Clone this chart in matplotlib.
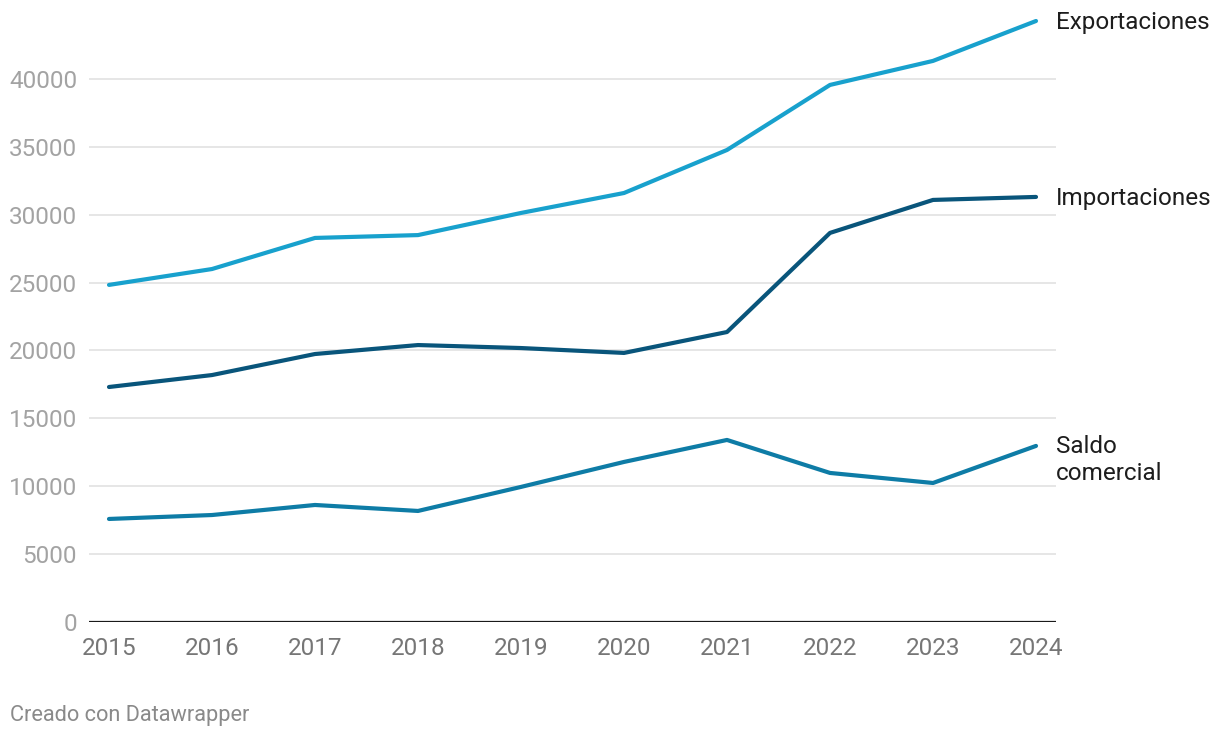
import matplotlib.pyplot as plt

plt.rcParams["font.family"] = ["Roboto", "DejaVu Sans"]

years = [2015, 2016, 2017, 2018, 2019, 2020, 2021, 2022, 2023, 2024]
exportaciones = [24830, 26000, 28290, 28500, 30130, 31600, 34770, 39560, 41330, 44270]
importaciones = [17310, 18190, 19740, 20400, 20180, 19820, 21360, 28660, 31090, 31310]
saldo = [7590, 7880, 8620, 8180, 9950, 11790, 13410, 10980, 10240, 12970]

y_ticks = [0, 5000, 10000, 15000, 20000, 25000, 30000, 35000, 40000]

series = [
    ("Exportaciones", exportaciones, "#18a1cd"),
    ("Importaciones", importaciones, "#09557b"),
    ("Saldo\ncomercial", saldo, "#0e7ca6"),
]

fig = plt.figure(figsize=(12.2, 7.38), dpi=100)
ax = fig.add_axes([89 / 1220, (738 - 622) / 738, (1056 - 89) / 1220, (622 - 10) / 738])

pad = 20 / 103
ax.set_xlim(years[0] - pad, years[-1] + pad)
ax.set_ylim(0, 45080)

for label, values, color in series:
    ax.plot(years, values, color=color, linewidth=3, solid_capstyle="round",
            solid_joinstyle="round", zorder=3)
    if "\n" in label:
        ax.annotate(label, xy=(years[-1], values[-1]), xytext=(14.4, 8),
                    textcoords="offset points", ha="left", va="top",
                    fontsize=17.5, color="#1d1d1d", linespacing=1.25,
                    annotation_clip=False)
    else:
        ax.annotate(label, xy=(years[-1], values[-1]), xytext=(14.4, -1),
                    textcoords="offset points", ha="left", va="center",
                    fontsize=17.5, color="#1d1d1d", annotation_clip=False)

ax.set_yticks(y_ticks)
ax.set_yticklabels([str(t) for t in y_ticks])
ax.set_xticks(years)
ax.set_xticklabels([str(y) for y in years])

for t in y_ticks[1:]:
    ax.axhline(t, color="#e2e2e2", linewidth=1.2, zorder=1)
ax.axhline(0, color="#1a1a1a", linewidth=1.6, zorder=2)

for side in ["top", "right", "left", "bottom"]:
    ax.spines[side].set_visible(False)

ax.tick_params(axis="y", length=0, pad=8.6, labelsize=17.5, labelcolor="#a3a3a3")
ax.tick_params(axis="x", length=0, pad=11, labelsize=17.5, labelcolor="#767676")

fig.text(10 / 1220, 1 - 715 / 738, "Creado con Datawrapper", fontsize=15.7,
         color="#8a8a8a", ha="left", va="center")

fig.savefig("out.png", dpi=100)
